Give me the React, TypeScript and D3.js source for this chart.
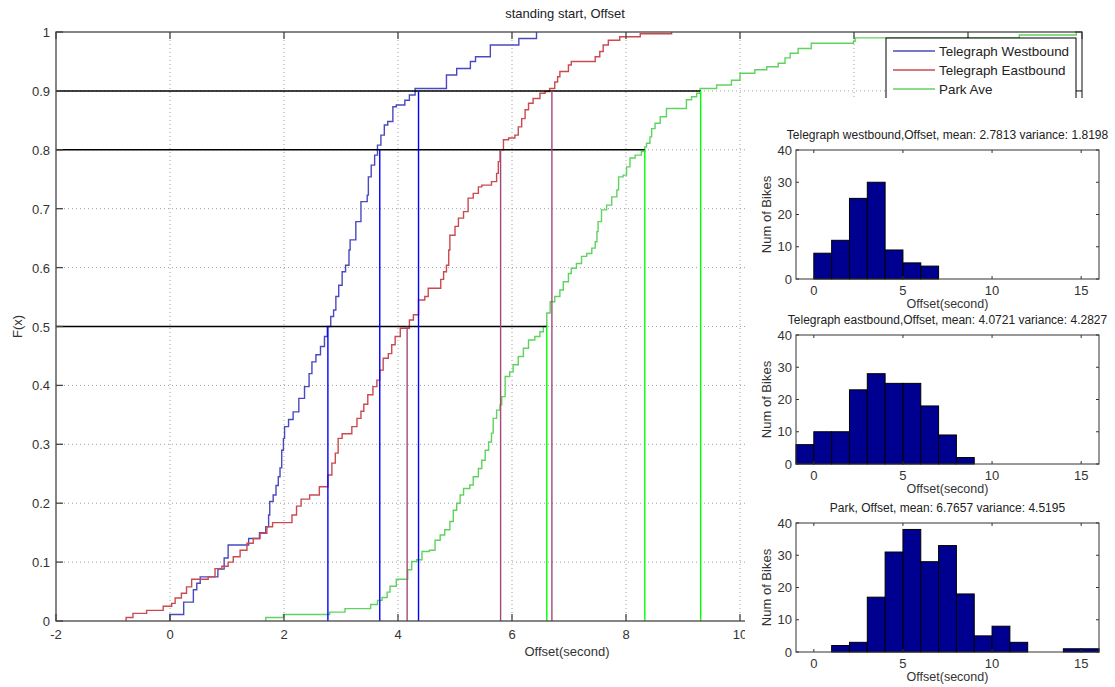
import React from 'react';
import * as d3 from 'd3';

// ---------- DATA ----------
// Empirical CDF step points: [offset (s), F(x)]
const westbound: [number, number][] = [
  [0, 0], [0, 0.011], [0.24, 0.032], [0.41, 0.053], [0.47, 0.064], [0.53, 0.075], [0.84, 0.088],
  [0.95, 0.107], [1.02, 0.129], [1.38, 0.14], [1.57, 0.15], [1.68, 0.16], [1.73, 0.18], [1.75, 0.203],
  [1.81, 0.214], [1.86, 0.23], [1.9, 0.245], [1.93, 0.26], [1.96, 0.29], [1.99, 0.31], [2.01, 0.33],
  [2.08, 0.342], [2.16, 0.355], [2.26, 0.378], [2.36, 0.398], [2.44, 0.42], [2.49, 0.44], [2.56, 0.452],
  [2.64, 0.466], [2.71, 0.483], [2.76, 0.5], [2.82, 0.517], [2.87, 0.528], [2.91, 0.551], [2.96, 0.57],
  [3.02, 0.593], [3.08, 0.604], [3.14, 0.63], [3.16, 0.647], [3.26, 0.678], [3.35, 0.712], [3.46, 0.723],
  [3.48, 0.754], [3.53, 0.774], [3.59, 0.791], [3.64, 0.808], [3.7, 0.825], [3.76, 0.842], [3.82, 0.848],
  [3.91, 0.873], [3.97, 0.876], [4.12, 0.884], [4.2, 0.893], [4.3, 0.904], [4.85, 0.927], [5.03, 0.938],
  [5.27, 0.95], [5.36, 0.958], [5.62, 0.978], [6.12, 0.989], [6.43, 1.0],
];
const eastbound: [number, number][] = [
  [-0.77, 0], [-0.77, 0.006], [-0.65, 0.013], [-0.41, 0.018], [-0.12, 0.025], [0.03, 0.03], [0.09, 0.039],
  [0.2, 0.047], [0.29, 0.058], [0.38, 0.071], [0.67, 0.075], [0.79, 0.089], [0.91, 0.093], [1.02, 0.1],
  [1.11, 0.109], [1.23, 0.12], [1.35, 0.132], [1.46, 0.14], [1.58, 0.149], [1.7, 0.16], [1.8, 0.167],
  [2.14, 0.18], [2.22, 0.195], [2.3, 0.207], [2.45, 0.214], [2.62, 0.228], [2.77, 0.248], [2.84, 0.268],
  [2.9, 0.285], [2.95, 0.31], [3.02, 0.318], [3.19, 0.33], [3.28, 0.344], [3.35, 0.356], [3.4, 0.368],
  [3.47, 0.384], [3.56, 0.398], [3.63, 0.409], [3.68, 0.426], [3.74, 0.446], [3.83, 0.454], [3.89, 0.469],
  [3.95, 0.483], [4.04, 0.497], [4.2, 0.511], [4.27, 0.52], [4.36, 0.545], [4.47, 0.551], [4.53, 0.565],
  [4.75, 0.58], [4.8, 0.593], [4.85, 0.604], [4.89, 0.63], [4.91, 0.655], [5.0, 0.67], [5.06, 0.684],
  [5.15, 0.695], [5.23, 0.718], [5.32, 0.726], [5.41, 0.737], [5.47, 0.74], [5.64, 0.746], [5.73, 0.76],
  [5.76, 0.78], [5.79, 0.8], [5.85, 0.817], [5.94, 0.82], [6.05, 0.825], [6.11, 0.839], [6.17, 0.853],
  [6.23, 0.868], [6.29, 0.879], [6.37, 0.887], [6.49, 0.896], [6.58, 0.899], [6.66, 0.904], [6.75, 0.915],
  [6.8, 0.924], [6.84, 0.933], [6.99, 0.944], [7.04, 0.95], [7.46, 0.958], [7.54, 0.967], [7.6, 0.978],
  [7.69, 0.986], [7.89, 0.992], [8.25, 0.997], [8.8, 1.0],
];
const parkAve: [number, number][] = [
  [1.68, 0], [1.68, 0.006], [1.99, 0.011], [2.8, 0.015], [3.07, 0.021], [3.52, 0.028], [3.64, 0.035],
  [3.72, 0.04], [3.81, 0.049], [3.86, 0.059], [3.97, 0.071], [4.17, 0.087], [4.24, 0.101], [4.33, 0.104],
  [4.42, 0.118], [4.55, 0.12], [4.65, 0.137], [4.74, 0.146], [4.82, 0.155], [4.91, 0.169], [4.97, 0.188],
  [5.03, 0.2], [5.09, 0.214], [5.15, 0.225], [5.26, 0.231], [5.32, 0.245], [5.41, 0.259], [5.47, 0.273],
  [5.53, 0.29], [5.59, 0.304], [5.64, 0.319], [5.67, 0.344], [5.73, 0.358], [5.79, 0.367], [5.82, 0.381],
  [5.88, 0.415], [5.96, 0.423], [6.02, 0.435], [6.11, 0.449], [6.2, 0.463], [6.29, 0.477], [6.4, 0.483],
  [6.49, 0.491], [6.55, 0.5], [6.61, 0.523], [6.67, 0.542], [6.75, 0.551], [6.84, 0.562], [6.9, 0.576],
  [6.99, 0.59], [7.04, 0.599], [7.13, 0.607], [7.22, 0.619], [7.31, 0.624], [7.4, 0.633], [7.46, 0.644],
  [7.49, 0.661], [7.51, 0.678], [7.57, 0.698], [7.66, 0.706], [7.75, 0.72], [7.84, 0.732], [7.87, 0.754],
  [7.95, 0.757], [8.01, 0.771], [8.07, 0.786], [8.16, 0.791], [8.27, 0.797], [8.33, 0.805], [8.36, 0.811],
  [8.42, 0.822], [8.45, 0.836], [8.51, 0.845], [8.6, 0.856], [8.71, 0.87], [9.06, 0.885], [9.15, 0.89],
  [9.24, 0.896], [9.3, 0.904], [9.59, 0.91], [9.85, 0.918], [10.0, 0.93], [10.26, 0.936], [10.47, 0.941],
  [10.67, 0.947], [10.79, 0.956], [10.88, 0.964], [11.02, 0.972], [11.25, 0.981], [11.99, 0.984],
  [12.02, 0.99], [14.9, 0.995], [15.9, 1.0],
];

const seriesNames = ['Telegraph Westbound', 'Telegraph Eastbound', 'Park Ave'];
const levels = [0.5, 0.8, 0.9];
// quantile offsets for each series at levels 0.5, 0.8, 0.9
const westQuantiles = [2.77, 3.68, 4.36];
const eastQuantiles = [4.16, 5.8, 6.7];
const parkQuantiles = [6.61, 8.33, 9.31];

const xTicks = [-2, 0, 2, 4, 6, 8, 10, 12, 14, 16];
const yTicks = [0, 0.1, 0.2, 0.3, 0.4, 0.5, 0.6, 0.7, 0.8, 0.9, 1];

// Histograms (unit-width bins)
const westHistStart = 0;
const westCounts = [8, 12, 25, 30, 9, 5, 4];
const eastHistStart = -1;
const eastCounts = [6, 10, 10, 23, 28, 25, 25, 18, 9, 2];
const parkHistStart = 0;
const parkCounts = [0, 2, 3, 17, 31, 38, 28, 33, 18, 5, 8, 3, 0, 0, 1, 1];
const histTitles = [
  'Telegraph westbound,Offset, mean: 2.7813 variance: 1.8198',
  'Telegraph eastbound,Offset, mean: 4.0721 variance: 4.2827',
  'Park, Offset, mean: 6.7657 variance: 4.5195',
];
const histXTicks = [0, 5, 10, 15];
const histYTicks = [0, 10, 20, 30, 40];

// ---------- STYLE ----------
const FONT = '"Liberation Sans", Arial, Helvetica, sans-serif';
const cdfColors = ['#4a4abf', '#c94b4f', '#5fd35f'];
const vColors = ['#0000ff', '#a24a74', '#00ff00'];
const W = 1115, H = 687;
const M = { left: 56, right: 1082, top: 32, bottom: 621 };

function Histogram({ top, counts, start, title }: { top: number; counts: number[]; start: number; title: string }) {
  const bottom = top + 129;
  const hx = d3.scaleLinear().domain([-1, 16]).range([796, 1099]);
  const hy = d3.scaleLinear().domain([0, 40]).range([bottom, top]);
  const L = hx.range()[0], R = hx.range()[1];
  return (
    <g>
      <rect x={L} y={top} width={R - L} height={bottom - top} fill="#fff" />
      {counts.map((c, i) => (
        <rect key={i} x={hx(start + i)} y={hy(c)} width={hx(start + i + 1) - hx(start + i)} height={hy(0) - hy(c)}
          fill="#000090" stroke="#000" strokeWidth={1} />
      ))}
      <rect x={L} y={top} width={R - L} height={bottom - top} fill="none" stroke="#333" strokeWidth={1} />
      {histXTicks.map(t => (
        <g key={'x' + t}>
          <line x1={hx(t)} x2={hx(t)} y1={bottom} y2={bottom - 3} stroke="#333" />
          <line x1={hx(t)} x2={hx(t)} y1={top} y2={top + 3} stroke="#333" />
          <text x={hx(t)} y={bottom + 16} fontSize={13} textAnchor="middle" fill="#333" fontFamily={FONT}>{t}</text>
        </g>
      ))}
      {histYTicks.map(t => (
        <g key={'y' + t}>
          <line x1={L} x2={L + 3} y1={hy(t)} y2={hy(t)} stroke="#333" />
          <line x1={R} x2={R - 3} y1={hy(t)} y2={hy(t)} stroke="#333" />
          <text x={L - 4} y={hy(t) + 4.5} fontSize={13} textAnchor="end" fill="#333" fontFamily={FONT}>{t}</text>
        </g>
      ))}
      <text x={(L + R) / 2} y={top - 11} fontSize={12} textAnchor="middle" fill="#222" fontFamily={FONT}>{title}</text>
      <text x={(L + R) / 2} y={bottom + 29} fontSize={12.5} textAnchor="middle" fill="#333" fontFamily={FONT}>Offset(second)</text>
      <text transform={`translate(${L - 25},${(top + bottom) / 2}) rotate(-90)`} fontSize={13} textAnchor="middle" fill="#333" fontFamily={FONT}>Num of Bikes</text>
    </g>
  );
}

export default function App() {
  const x = d3.scaleLinear().domain([-2, 16]).range([M.left, M.right]);
  const y = d3.scaleLinear().domain([0, 1]).range([M.bottom, M.top]);
  const line = d3.line<[number, number]>().x(d => x(d[0])).y(d => y(d[1])).curve(d3.curveStepAfter);
  const series = [westbound, eastbound, parkAve];
  const quantiles = [westQuantiles, eastQuantiles, parkQuantiles];
  const dotted = { stroke: '#a0a0a0', strokeDasharray: '1 3', strokeWidth: 1 };

  return (
    <svg width={W} height={H} style={{ position: 'absolute', left: 0, top: 0, background: '#fff' }}>
      <rect x={0} y={0} width={W} height={H} fill="#fff" />
      <defs>
        <clipPath id="mainClip"><rect x={M.left} y={M.top - 2} width={M.right - M.left} height={M.bottom - M.top + 2} /></clipPath>
      </defs>
      {/* grid */}
      {xTicks.slice(1, -1).map(t => <line key={'gx' + t} x1={x(t)} x2={x(t)} y1={M.top} y2={M.bottom} {...dotted} />)}
      {yTicks.slice(1, -1).map(t => <line key={'gy' + t} x1={M.left} x2={M.right} y1={y(t)} y2={y(t)} {...dotted} />)}
      {/* CDFs */}
      <g clipPath="url(#mainClip)">
        {series.map((s, i) => (
          <path key={i} d={line(s) || ''} fill="none" stroke={cdfColors[i]} strokeWidth={1.4} />
        ))}
      </g>
      {/* quantile lines */}
      {levels.map((lv, j) => (
        <line key={'h' + j} x1={x(-2)} x2={x(d3.max(quantiles, q => q[j]) as number)} y1={y(lv)} y2={y(lv)} stroke="#000" strokeWidth={1.5} />
      ))}
      {quantiles.map((q, i) => q.map((v, j) => (
        <line key={'v' + i + j} x1={x(v)} x2={x(v)} y1={y(0)} y2={y(levels[j])} stroke={vColors[i]} strokeWidth={1.4} />
      )))}
      {/* axes box and ticks */}
      <rect x={M.left} y={M.top} width={M.right - M.left} height={M.bottom - M.top} fill="none" stroke="#444" strokeWidth={1.3} />
      {xTicks.map(t => (
        <g key={'tx' + t}>
          <line x1={x(t)} x2={x(t)} y1={M.bottom} y2={M.bottom - 7} stroke="#444" strokeWidth={1.3} />
          <line x1={x(t)} x2={x(t)} y1={M.top} y2={M.top + 7} stroke="#444" strokeWidth={1.3} />
          <text x={x(t)} y={M.bottom + 18} fontSize={13} textAnchor="middle" fill="#333" fontFamily={FONT}>{t}</text>
        </g>
      ))}
      {yTicks.map(t => (
        <g key={'ty' + t}>
          <line x1={M.left} x2={M.left + 7} y1={y(t)} y2={y(t)} stroke="#444" strokeWidth={1.3} />
          <line x1={M.right} x2={M.right - 7} y1={y(t)} y2={y(t)} stroke="#444" strokeWidth={1.3} />
          <text x={M.left - 6} y={y(t) + 5} fontSize={13} textAnchor="end" fill="#333" fontFamily={FONT}>{t}</text>
        </g>
      ))}
      <text x={565} y={18} fontSize={13} textAnchor="middle" fill="#222" fontFamily={FONT}>standing start, Offset</text>
      <text x={567} y={656} fontSize={13} textAnchor="middle" fill="#333" fontFamily={FONT}>Offset(second)</text>
      <text transform={`translate(22,${(M.top + M.bottom) / 2}) rotate(-90)`} fontSize={13} textAnchor="middle" fill="#333" fontFamily={FONT}>F(x)</text>
      {/* legend */}
      <rect x={886} y={38} width={190} height={64} fill="#fff" stroke="#000" strokeWidth={1} />
      {seriesNames.map((n, i) => (
        <g key={'lg' + i}>
          <line x1={893} x2={935} y1={51 + i * 19} y2={51 + i * 19} stroke={cdfColors[i]} strokeWidth={1.4} />
          <text x={939} y={55.5 + i * 19} fontSize={13.4} fill="#222" fontFamily={FONT}>{n}</text>
        </g>
      ))}
      {/* white area covering right side of main axes */}
      <rect x={745} y={98} width={W - 745} height={H - 98} fill="#fff" />
      <Histogram top={150} counts={westCounts} start={westHistStart} title={histTitles[0]} />
      <Histogram top={335} counts={eastCounts} start={eastHistStart} title={histTitles[1]} />
      <Histogram top={523} counts={parkCounts} start={parkHistStart} title={histTitles[2]} />
    </svg>
  );
}
